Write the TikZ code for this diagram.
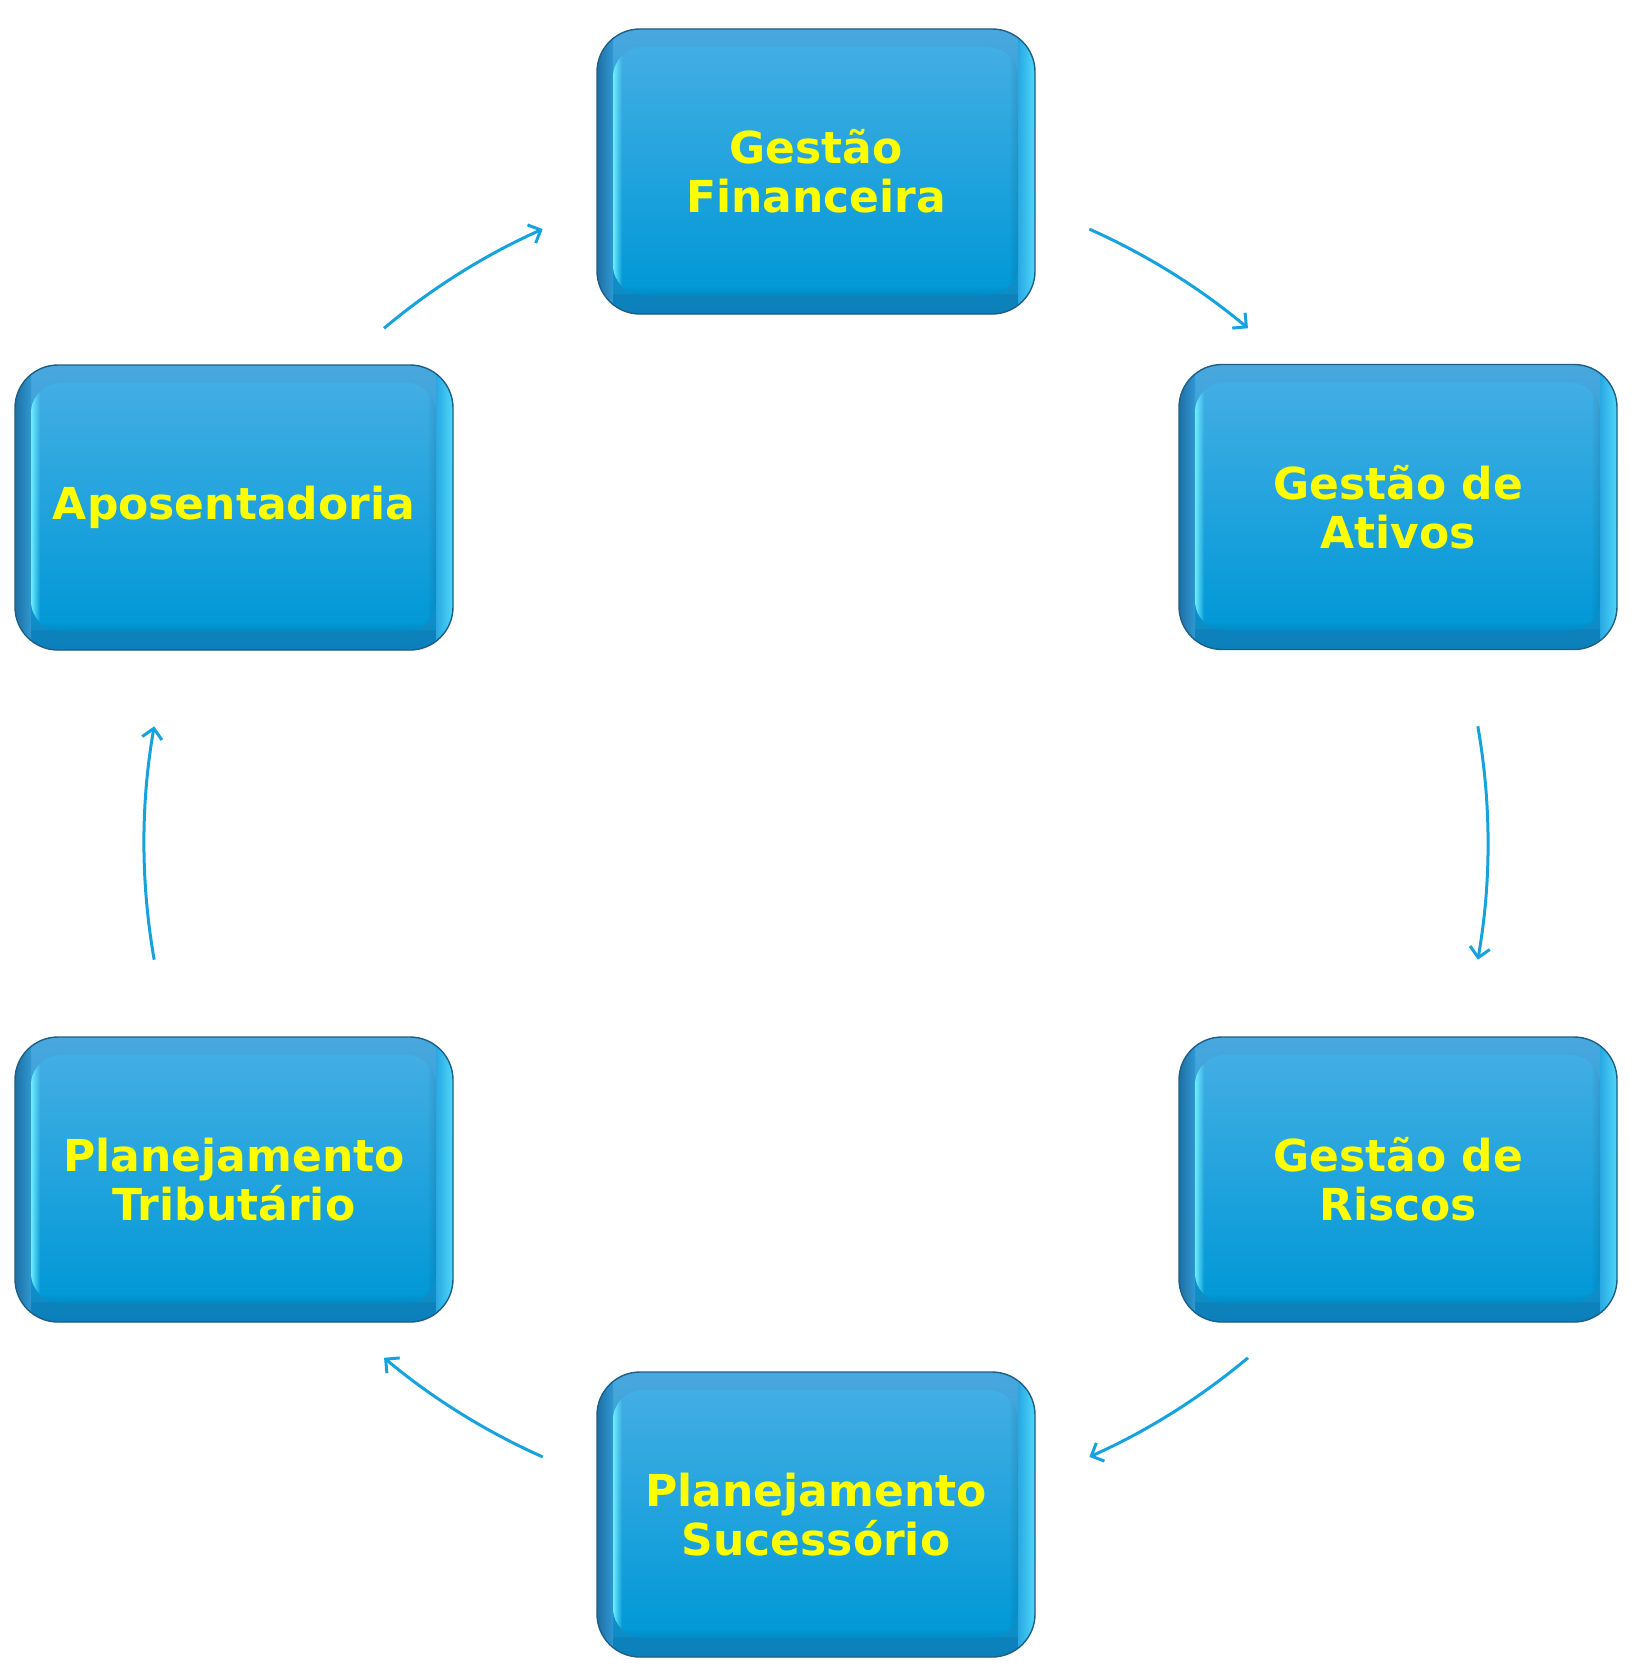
\documentclass[tikz,border=0pt]{standalone}
\usepackage{fontspec}
\newfontfamily\boxfont{DejaVu Sans}
\usetikzlibrary{arrows.meta,calc,fadings}
\tikzfading[name=fadeLR, left color=transparent!0, right color=transparent!100]
\tikzfading[name=fadeRL, left color=transparent!100, right color=transparent!0]
\tikzfading[name=fadeBT, bottom color=transparent!0, top color=transparent!100]
\definecolor{outertop}{RGB}{72,168,222}
\definecolor{outerbot}{RGB}{8,138,196}
\definecolor{rimleftA}{RGB}{30,112,165}
\definecolor{rimleftB}{RGB}{48,152,210}
\definecolor{rimrightA}{RGB}{40,168,226}
\definecolor{rimcyan}{RGB}{98,232,255}
\definecolor{rimrightC}{RGB}{80,215,250}
\definecolor{rimbotA}{RGB}{12,128,186}
\definecolor{rimbotB}{RGB}{20,150,210}
\definecolor{edgec}{RGB}{30,95,135}
\definecolor{innertop}{RGB}{66,174,228}
\definecolor{innerbot}{RGB}{0,152,214}
\definecolor{hl}{RGB}{110,238,255}
\definecolor{arrowc}{RGB}{22,163,221}
\definecolor{txt}{RGB}{255,255,0}
\tikzset{
  glossy/.style={
    rounded corners=21.5pt, minimum width=219pt, minimum height=142.5pt,
    inner sep=0pt, top color=outertop, bottom color=outerbot,
    draw=edgec, line width=0.7pt,
    text=txt, align=center,
    font=\boxfont\bfseries\fontsize{22}{24.5}\selectfont,
    path picture={
      \shade[sharp corners, top color=rimbotB, bottom color=rimbotA]
        (path picture bounding box.south west) rectangle ([yshift=10pt]path picture bounding box.south east);
      \shade[sharp corners, left color=rimleftA, right color=rimleftB]
        (path picture bounding box.south west) rectangle ([xshift=8pt]path picture bounding box.north west);
      \shade[sharp corners, left color=rimrightA, middle color=rimcyan, right color=rimrightC]
        ([xshift=-8.5pt]path picture bounding box.south east) rectangle (path picture bounding box.north east);
      \shade[rounded corners=15pt, top color=innertop, bottom color=innerbot]
        ([xshift=8pt,yshift=9.5pt]path picture bounding box.south west) rectangle ([xshift=-8.5pt,yshift=-9pt]path picture bounding box.north east);
      \begin{scope}
        \clip[rounded corners=15pt] ([xshift=8pt,yshift=9.5pt]path picture bounding box.south west) rectangle ([xshift=-8.5pt,yshift=-9pt]path picture bounding box.north east);
        \fill[sharp corners, hl, path fading=fadeLR]
          ([xshift=8pt,yshift=9.5pt]path picture bounding box.south west) rectangle ([xshift=12.5pt,yshift=-9pt]path picture bounding box.north west);
        \fill[sharp corners, black, opacity=0.1, path fading=fadeRL]
          ([xshift=-13pt,yshift=9.5pt]path picture bounding box.south east) rectangle ([xshift=-8.5pt,yshift=-9pt]path picture bounding box.north east);
        \fill[sharp corners, black, opacity=0.08, path fading=fadeBT]
          ([xshift=8pt,yshift=9.5pt]path picture bounding box.south west) rectangle ([xshift=-8.5pt,yshift=14pt]path picture bounding box.south east);
      \end{scope}
    }},
  cyc/.style={draw=arrowc, line width=1.5pt, -{Straight Barb[length=5pt,width=10pt]}}
}
\begin{document}
\begin{tikzpicture}[x=0.5pt,y=0.5pt]
\path[use as bounding box] (0,0) rectangle (1651,-1675);
\node[glossy] (fin) at (816,-171.5) {Gestão\\Financeira};
\node[glossy] (ativos) at (1398,-507) {Gestão de\\Ativos};
\node[glossy] (riscos) at (1398,-1179.5) {Gestão de\\Riscos};
\node[glossy] (suc) at (816,-1514.5) {Planejamento\\Sucessório};
\node[glossy] (trib) at (234,-1179.5) {Planejamento\\Tributário};
\node[glossy] (apos) at (234,-507.5) {Aposentadoria};
\coordinate (c) at (816,-843);
\coordinate (a1) at ($(c)+(130:336pt)$);
\coordinate (a2) at ($(c)+(66:336pt)$);
\coordinate (a3) at ($(c)+(10:336pt)$);
\coordinate (a4) at ($(c)+(-50:336pt)$);
\coordinate (a5) at ($(c)+(-114:336pt)$);
\coordinate (a6) at ($(c)+(190:336pt)$);
\draw[cyc] (a1) arc[start angle=130, end angle=114, radius=336pt];
\draw[cyc] (a2) arc[start angle=66, end angle=50, radius=336pt];
\draw[cyc] (a3) arc[start angle=10, end angle=-10, radius=336pt];
\draw[cyc] (a4) arc[start angle=-50, end angle=-66, radius=336pt];
\draw[cyc] (a5) arc[start angle=-114, end angle=-130, radius=336pt];
\draw[cyc] (a6) arc[start angle=190, end angle=170, radius=336pt];
\end{tikzpicture}
\end{document}
